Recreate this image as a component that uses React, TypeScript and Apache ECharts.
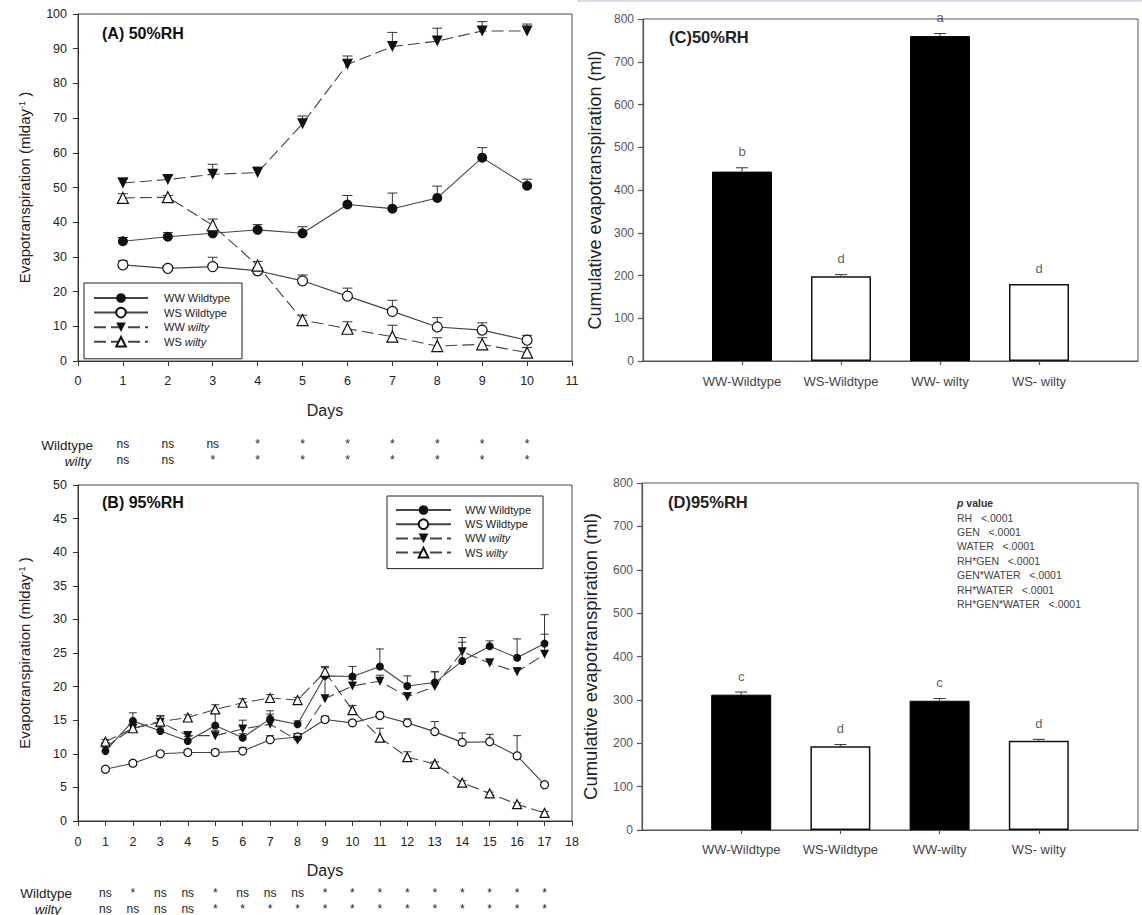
import React, { useEffect, useRef } from "react";
import * as echarts from "echarts";

const FONT = "'Liberation Sans', Arial, Helvetica, sans-serif";
const INK = "#222";
const LINE = "#444";

// ---------- Panel A (50% RH) ----------
const daysA = [1, 2, 3, 4, 5, 6, 7, 8, 9, 10];
const aWWWild = [34.5, 35.8, 36.8, 37.8, 36.8, 45.1, 43.9, 47.0, 58.6, 50.5];
const aWWWildErr = [1.1, 1.2, 1.0, 1.5, 1.9, 2.6, 4.5, 3.4, 2.9, 1.9];
const aWSWild = [27.7, 26.7, 27.2, 26.0, 23.1, 18.7, 14.3, 9.8, 8.9, 6.0];
const aWSWildErr = [1.2, 0.8, 2.7, 0.8, 1.7, 2.3, 3.2, 2.7, 2.1, 1.4];
const aWWWilty = [51.3, 52.3, 53.8, 54.3, 68.4, 85.5, 90.6, 92.2, 95.1, 95.1];
const aWWWiltyErr = [1.4, 1.2, 2.9, 1.6, 2.2, 2.4, 4.1, 3.7, 2.7, 2.0];
const aWSWilty = [47.0, 47.2, 39.1, 27.5, 11.8, 9.3, 7.0, 4.3, 4.8, 2.4];
const aWSWiltyErr = [1.2, 0.5, 1.8, 1.2, 1.4, 2.0, 3.3, 2.4, 1.9, 1.5];
const sigAWild = ["ns", "ns", "ns", "*", "*", "*", "*", "*", "*", "*"];
const sigAWilty = ["ns", "ns", "*", "*", "*", "*", "*", "*", "*", "*"];

// ---------- Panel B (95% RH) ----------
const daysB = [1, 2, 3, 4, 5, 6, 7, 8, 9, 10, 11, 12, 13, 14, 15, 16, 17];
const bWWWild = [10.4, 14.9, 13.4, 11.9, 14.2, 12.4, 15.2, 14.4, 21.6, 21.5, 23.0, 20.1, 20.6, 23.8, 26.0, 24.3, 26.4];
const bWWWildErr = [0.5, 1.2, 0.6, 0.7, 2.0, 0.6, 1.2, 0.5, 1.4, 1.5, 2.6, 1.5, 1.6, 2.8, 0.8, 2.8, 4.3];
const bWSWild = [7.7, 8.6, 10.0, 10.2, 10.2, 10.4, 12.1, 12.5, 15.1, 14.6, 15.7, 14.6, 13.3, 11.7, 11.8, 9.7, 5.4];
const bWSWildErr = [0.3, 0.3, 0.4, 0.4, 0.4, 0.5, 0.6, 0.5, 0.5, 0.4, 0.5, 0.6, 1.5, 1.4, 1.1, 3.0, 0.3];
const bWWWilty = [11.0, 13.8, 14.7, 12.7, 12.7, 13.7, 14.4, 12.0, 18.2, 20.1, 20.8, 18.5, 20.0, 25.2, 23.5, 22.2, 24.8];
const bWWWiltyErr = [0.5, 0.6, 1.0, 0.6, 0.8, 1.3, 1.5, 1.0, 3.5, 1.0, 0.9, 0.6, 2.2, 2.1, 0.6, 0.6, 3.0];
const bWSWilty = [11.8, 13.8, 14.8, 15.4, 16.6, 17.6, 18.3, 18.0, 22.2, 16.5, 12.4, 9.5, 8.5, 5.7, 4.1, 2.5, 1.2];
const bWSWiltyErr = [0.3, 0.5, 0.8, 0.4, 0.7, 0.6, 0.5, 0.4, 0.6, 0.7, 1.4, 0.8, 0.3, 0.3, 0.2, 0.2, 0.2];
const sigBWild = ["ns", "*", "ns", "ns", "*", "ns", "ns", "ns", "*", "*", "*", "*", "*", "*", "*", "*", "*"];
const sigBWilty = ["ns", "ns", "ns", "ns", "*", "*", "*", "*", "*", "*", "*", "*", "*", "*", "*", "*", "*"];

const seriesNames = ["WW Wildtype", "WS Wildtype", "WW wilty", "WS wilty"];

// ---------- Panels C, D (cumulative) ----------
const barPos = [1, 2, 3, 4];
const catsC = ["WW-Wildtype", "WS-Wildtype", "WW- wilty", "WS- wilty"];
const catsD = ["WW-Wildtype", "WS-Wildtype", "WW-wilty", "WS- wilty"];
const cVals = [443, 198, 760, 180];
const cErr = [9, 4, 6, 0];
const cLetters = ["b", "d", "a", "d"];
const dVals = [312, 193, 298, 206];
const dErr = [6, 4, 5, 3];
const dLetters = ["c", "d", "c", "d"];

const pValueLines = [
  "RH   <.0001",
  "GEN   <.0001",
  "WATER   <.0001",
  "RH*GEN   <.0001",
  "GEN*WATER   <.0001",
  "RH*WATER   <.0001",
  "RH*GEN*WATER   <.0001",
];

const styles = [
  { symbol: "circle", rotate: 0, fill: "#111", dashed: false },
  { symbol: "circle", rotate: 0, fill: "#fff", dashed: false },
  { symbol: "triangle", rotate: 180, fill: "#111", dashed: true },
  { symbol: "triangle", rotate: 0, fill: "#fff", dashed: true },
];

function lineSeries(i: number, days: number[], vals: number[], gi: number, size: number) {
  const s = styles[i];
  return {
    type: "line",
    name: seriesNames[i],
    xAxisIndex: gi,
    yAxisIndex: gi,
    z: 3,
    silent: true,
    data: days.map((d, k) => [d, vals[k]]),
    symbol: s.symbol,
    symbolRotate: s.rotate,
    symbolSize: s.symbol === "triangle" ? size + 1 : size,
    itemStyle: { color: s.fill, borderColor: "#111", borderWidth: s.fill === "#fff" ? 1.2 : 0 },
    lineStyle: { color: LINE, width: 1.1, type: s.dashed ? [12, 5] : "solid" },
    emphasis: { disabled: true },
  };
}

function errSeries(name: string, xs: number[], vals: number[], errs: number[], gi: number, cap: number) {
  return {
    type: "custom",
    name,
    xAxisIndex: gi,
    yAxisIndex: gi,
    z: 2,
    silent: true,
    data: xs.map((d, k) => [d, vals[k], errs[k]]),
    encode: { x: 0, y: 1 },
    renderItem: (_p: any, api: any) => {
      const x = api.value(0);
      const y = api.value(1);
      const e = api.value(2);
      if (!e) return { type: "group", children: [] };
      const p0 = api.coord([x, y]);
      const p1 = api.coord([x, y + e]);
      const st = { stroke: "#333", lineWidth: 1 };
      return {
        type: "group",
        children: [
          { type: "line", shape: { x1: p0[0], y1: p0[1], x2: p1[0], y2: p1[1] }, style: st },
          { type: "line", shape: { x1: p1[0] - cap, y1: p1[1], x2: p1[0] + cap, y2: p1[1] }, style: st },
        ],
      };
    },
  };
}

function barSeries(vals: number[], cats: string[], gi: number) {
  return {
    type: "bar",
    xAxisIndex: gi,
    yAxisIndex: gi,
    barWidth: 60,
    silent: true,
    z: 2,
    data: barPos.map((x, k) => ({
      value: [x, vals[k]],
      itemStyle: cats[k].startsWith("WW")
        ? { color: "#000", borderColor: "#000", borderWidth: 1 }
        : { color: "#fff", borderColor: "#111", borderWidth: 1.5 },
    })),
  };
}

function letterSeries(vals: number[], errs: number[], letters: string[], gi: number) {
  return {
    type: "scatter",
    xAxisIndex: gi,
    yAxisIndex: gi,
    silent: true,
    symbolSize: 1,
    itemStyle: { color: "rgba(0,0,0,0)" },
    z: 4,
    data: barPos.map((x, k) => [x, vals[k] + errs[k]]),
    label: {
      show: true,
      position: "top",
      distance: 9,
      fontSize: 13,
      color: "#333",
      fontFamily: FONT,
      formatter: (p: any) => letters[p.dataIndex],
    },
  };
}

const axisLineStyle = { color: "#333", width: 1 };
const barAxisLineStyle = { color: "#555", width: 1.2 };

function lineXAxis(gi: number, max: number, margin: number) {
  return {
    type: "value",
    gridIndex: gi,
    min: 0,
    max,
    interval: 1,
    axisLine: { lineStyle: axisLineStyle, onZero: false },
    axisTick: { length: 5, lineStyle: axisLineStyle },
    axisLabel: { fontSize: 12.5, color: INK, fontFamily: FONT, margin },
    splitLine: { show: false },
    name: "Days",
    nameLocation: "middle",
    nameGap: 41,
    nameTextStyle: { fontSize: 16, color: INK, fontFamily: FONT },
  };
}

function lineYAxis(gi: number, max: number, interval: number) {
  return {
    type: "value",
    gridIndex: gi,
    min: 0,
    max,
    interval,
    axisLine: { show: true, lineStyle: axisLineStyle },
    axisTick: { show: true, length: 5, lineStyle: axisLineStyle },
    axisLabel: { fontSize: 12.5, color: INK, fontFamily: FONT, margin: 11 },
    splitLine: { show: false },
    name: "Evapotranspiration (mlday{sup|-1} )",
    nameLocation: "middle",
    nameRotate: 90,
    nameGap: 46,
    nameTextStyle: {
      fontSize: 15,
      color: INK,
      fontFamily: FONT,
      rich: { sup: { fontSize: 9, color: INK, fontFamily: FONT, verticalAlign: "top", lineHeight: 9 } },
    },
  };
}

function sigAxis(gi: number, max: number, labels: string[], offset: number) {
  return {
    type: "value",
    gridIndex: gi,
    min: 0,
    max,
    interval: 1,
    position: "bottom",
    offset,
    axisLine: { show: false, onZero: false },
    axisTick: { show: false },
    splitLine: { show: false },
    axisLabel: {
      customValues: labels.map((_, k) => k + 1),
      formatter: (v: number) => labels[v - 1] ?? "",
      margin: 0,
      fontSize: 12,
      color: INK,
      fontFamily: FONT,
    },
  };
}

function barXAxis(gi: number, cats: string[], margin: number) {
  return {
    type: "value",
    gridIndex: gi,
    min: 0,
    max: 5,
    interval: 1,
    axisLine: { lineStyle: barAxisLineStyle, onZero: false },
    axisTick: { length: 4, lineStyle: barAxisLineStyle, customValues: barPos },
    axisLabel: {
      customValues: barPos,
      formatter: (v: number) => cats[v - 1] ?? "",
      fontSize: 13,
      color: "#444",
      fontFamily: FONT,
      margin,
    },
    splitLine: { show: false },
  };
}

function barYAxis(gi: number, gap: number, fs: number) {
  return {
    type: "value",
    gridIndex: gi,
    min: 0,
    max: 800,
    interval: 100,
    axisLine: { show: true, lineStyle: barAxisLineStyle },
    axisTick: { show: true, length: 5, lineStyle: barAxisLineStyle },
    axisLabel: { fontSize: 12, color: "#555", fontFamily: FONT, margin: 9 },
    splitLine: { show: false },
    name: "Cumulative evapotranspiration (ml)",
    nameLocation: "middle",
    nameRotate: 90,
    nameGap: gap,
    nameTextStyle: { fontSize: fs, color: INK, fontFamily: FONT },
  };
}

function legendCfg(left: number, top: number, itemWidth: number, gap: number, padding: number[], textPad: number) {
  return {
    data: seriesNames,
    left,
    top,
    orient: "vertical",
    itemWidth,
    itemHeight: 12,
    itemGap: gap,
    padding,
    borderColor: "#222",
    borderWidth: 1,
    selectedMode: false,
    formatter: (n: string) => n.replace("wilty", "{i|wilty}"),
    textStyle: {
      fontSize: 11,
      color: INK,
      fontFamily: FONT,
      lineHeight: 12,
      padding: [0, 0, 0, textPad],
      rich: { i: { fontStyle: "italic", fontSize: 11, color: INK, fontFamily: FONT } },
    },
  };
}

function txt(text: string, x: number, y: number, extra: any) {
  return {
    type: "text",
    x,
    y,
    silent: true,
    style: { text, fill: INK, fontFamily: FONT, verticalAlign: "middle", ...extra },
  };
}

export default function App() {
  const ref = useRef<HTMLDivElement>(null);
  useEffect(() => {
    if (!ref.current) return;
    const chart = echarts.init(ref.current, undefined, { renderer: "svg" });
    const gridBase = { show: true, borderColor: "#444", borderWidth: 1, backgroundColor: "transparent" };
    const option: any = {
      animation: false,
      backgroundColor: "#fff",
      grid: [
        { ...gridBase, left: 78, top: 14, width: 494, height: 347 },
        { ...gridBase, left: 78, top: 485, width: 494, height: 336 },
        { ...gridBase, borderColor: "#555", left: 643, top: 19, width: 495, height: 342 },
        { ...gridBase, borderColor: "#555", left: 642, top: 483, width: 496, height: 347 },
      ],
      xAxis: [
        lineXAxis(0, 11, 13),
        lineXAxis(1, 18, 14),
        barXAxis(2, catsC, 14),
        barXAxis(3, catsD, 13),
        sigAxis(0, 11, sigAWild, 77),
        sigAxis(0, 11, sigAWilty, 93),
        sigAxis(1, 18, sigBWild, 66),
        sigAxis(1, 18, sigBWilty, 82),
      ],
      yAxis: [lineYAxis(0, 100, 10), lineYAxis(1, 50, 5), barYAxis(2, 39, 18), barYAxis(3, 42, 18.5)],
      legend: [
        legendCfg(84, 283, 54, 2.6, [9, 12, 11, 9], 11),
        legendCfg(387, 496, 55, 2.2, [8, 12, 10, 8], 9),
      ],
      series: [
        errSeries("eA0", daysA, aWWWild, aWWWildErr, 0, 5),
        errSeries("eA1", daysA, aWSWild, aWSWildErr, 0, 5),
        errSeries("eA2", daysA, aWWWilty, aWWWiltyErr, 0, 5),
        errSeries("eA3", daysA, aWSWilty, aWSWiltyErr, 0, 5),
        lineSeries(0, daysA, aWWWild, 0, 10),
        lineSeries(1, daysA, aWSWild, 0, 10),
        lineSeries(2, daysA, aWWWilty, 0, 10),
        lineSeries(3, daysA, aWSWilty, 0, 10),
        errSeries("eB0", daysB, bWWWild, bWWWildErr, 1, 4),
        errSeries("eB1", daysB, bWSWild, bWSWildErr, 1, 4),
        errSeries("eB2", daysB, bWWWilty, bWWWiltyErr, 1, 4),
        errSeries("eB3", daysB, bWSWilty, bWSWiltyErr, 1, 4),
        lineSeries(0, daysB, bWWWild, 1, 8),
        lineSeries(1, daysB, bWSWild, 1, 8),
        lineSeries(2, daysB, bWWWilty, 1, 8),
        lineSeries(3, daysB, bWSWilty, 1, 8),
        barSeries(cVals, catsC, 2),
        errSeries("eC", barPos, cVals, cErr, 2, 6),
        letterSeries(cVals, cErr, cLetters, 2),
        barSeries(dVals, catsD, 3),
        errSeries("eD", barPos, dVals, dErr, 3, 6),
        letterSeries(dVals, dErr, dLetters, 3),
      ],
      graphic: [
        { type: "rect", silent: true, shape: { x: 577, y: 0, width: 565, height: 2 }, style: { fill: "#d5deea" } },
        txt("(A) 50%RH", 102, 33, { fontSize: 16, fontWeight: "bold", fill: "#111" }),
        txt("(B) 95%RH", 102, 502, { fontSize: 16, fontWeight: "bold", fill: "#111" }),
        txt("(C)50%RH", 669, 37, { fontSize: 16.5, fontWeight: "bold", fill: "#222" }),
        txt("(D)95%RH", 668, 502, { fontSize: 16.5, fontWeight: "bold", fill: "#222" }),
        txt("Wildtype", 93, 445, { fontSize: 13.5, align: "right" }),
        txt("wilty", 91, 461, { fontSize: 13.5, align: "right", fontStyle: "italic" }),
        txt("Wildtype", 72, 893, { fontSize: 13.5, align: "right" }),
        txt("wilty", 61, 909, { fontSize: 13.5, align: "right", fontStyle: "italic" }),
        {
          type: "text",
          x: 957,
          y: 496,
          silent: true,
          style: {
            text: "{pi|p} {pb|value}\n" + pValueLines.join("\n"),
            fill: "#444",
            fontFamily: FONT,
            fontSize: 10.5,
            lineHeight: 14.4,
            verticalAlign: "top",
            rich: {
              pi: { fontStyle: "italic", fontWeight: "bold", fontSize: 10.5, fill: "#333", fontFamily: FONT, lineHeight: 14.4 },
              pb: { fontWeight: "bold", fontSize: 10.5, fill: "#333", fontFamily: FONT, lineHeight: 14.4 },
            },
          },
        },
      ],
    };
    chart.setOption(option);
    return () => chart.dispose();
  }, []);
  return (
    <div
      ref={ref}
      style={{ position: "absolute", left: 0, top: 0, width: 1142, height: 915, background: "#fff" }}
    />
  );
}
